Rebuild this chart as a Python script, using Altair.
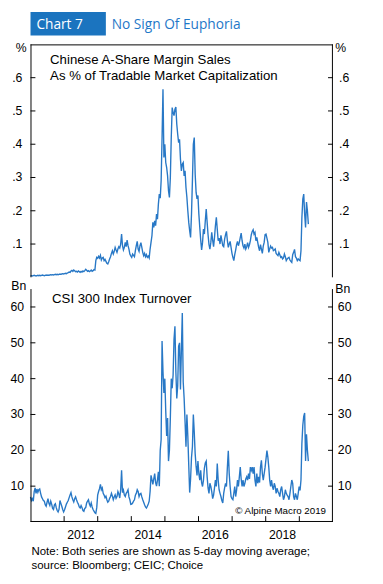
import altair as alt
import pandas as pd

# ---------------- data ----------------
# 10-day sampled 5-day moving averages, starting 2011-01-01
margin_pct = [
    0.004, 0.005, 0.004, 0.005, 0.006, 0.005, 0.004, 0.005, 0.006, 0.005,
    0.006, 0.005, 0.006, 0.007, 0.006, 0.005, 0.006, 0.007, 0.006, 0.007,
    0.006, 0.007, 0.008, 0.007, 0.008, 0.007, 0.008, 0.009, 0.008, 0.009,
    0.008, 0.009, 0.010, 0.009, 0.010, 0.011, 0.010, 0.011, 0.012, 0.011,
    0.013, 0.014, 0.016, 0.015, 0.019, 0.021, 0.018, 0.022, 0.020, 0.017,
    0.018, 0.016, 0.019, 0.017, 0.015, 0.018, 0.016, 0.019, 0.017, 0.020,
    0.024, 0.021, 0.018, 0.020, 0.017, 0.019, 0.022, 0.018, 0.020, 0.023,
    0.022, 0.050, 0.060, 0.057, 0.063, 0.058, 0.066, 0.052, 0.058, 0.060,
    0.050, 0.054, 0.048, 0.042, 0.040, 0.047, 0.055, 0.062, 0.072, 0.080,
    0.070, 0.078, 0.090, 0.082, 0.075, 0.085, 0.092, 0.088, 0.100, 0.130,
    0.095, 0.082, 0.090, 0.105, 0.092, 0.112, 0.095, 0.085, 0.070, 0.064,
    0.060, 0.070, 0.066, 0.062, 0.080, 0.095, 0.108, 0.085, 0.078, 0.095,
    0.104, 0.090, 0.075, 0.065, 0.072, 0.062, 0.068, 0.060, 0.064, 0.058,
    0.085, 0.105, 0.125, 0.165, 0.150, 0.170, 0.155, 0.190, 0.175, 0.220,
    0.250, 0.238, 0.290, 0.420, 0.565, 0.360, 0.400, 0.345, 0.330, 0.305,
    0.260, 0.240, 0.300, 0.420, 0.510, 0.495, 0.486, 0.505, 0.512, 0.460,
    0.430, 0.405, 0.415, 0.355, 0.320, 0.340, 0.345, 0.305, 0.320, 0.270,
    0.240, 0.200, 0.165, 0.140, 0.120, 0.190, 0.290, 0.400, 0.420, 0.310,
    0.255, 0.236, 0.246, 0.190, 0.150, 0.112, 0.082, 0.105, 0.145, 0.130,
    0.170, 0.205, 0.165, 0.128, 0.099, 0.085, 0.105, 0.135, 0.112, 0.092,
    0.120, 0.155, 0.180, 0.145, 0.110, 0.118, 0.100, 0.126, 0.110, 0.095,
    0.092, 0.115, 0.128, 0.138, 0.110, 0.090, 0.100, 0.108, 0.090, 0.072,
    0.060, 0.050, 0.068, 0.082, 0.098, 0.108, 0.095, 0.105, 0.119, 0.133,
    0.110, 0.095, 0.088, 0.100, 0.085, 0.092, 0.104, 0.090, 0.098, 0.110,
    0.128, 0.138, 0.143, 0.130, 0.135, 0.110, 0.120, 0.105, 0.090, 0.080,
    0.098, 0.085, 0.072, 0.094, 0.105, 0.128, 0.130, 0.118, 0.105, 0.075,
    0.085, 0.094, 0.088, 0.090, 0.080, 0.082, 0.085, 0.072, 0.068, 0.065,
    0.075, 0.068, 0.060, 0.062, 0.055, 0.058, 0.070, 0.062, 0.050, 0.055,
    0.058, 0.060, 0.052, 0.048, 0.045, 0.068, 0.075, 0.084, 0.062, 0.058,
    0.050, 0.055, 0.052, 0.050, 0.080, 0.180, 0.235, 0.250, 0.190, 0.150,
    0.226, 0.200, 0.160,
]

turnover_bn = [
    7.0, 6.0, 6.5, 5.8, 8.5, 9.5, 8.0, 9.2, 8.3, 9.0,
    9.2, 8.0, 7.0, 6.5, 6.0, 5.8, 4.8, 4.4, 5.5, 6.5,
    5.2, 4.6, 5.8, 5.0, 3.8, 3.5, 4.8, 5.1, 4.0, 3.2,
    2.8, 3.5, 6.0, 5.2, 4.4, 3.5, 2.8, 3.4, 4.2, 5.0,
    5.5, 6.0, 6.8, 7.5, 8.2, 7.0, 6.2, 5.6, 6.5, 7.0,
    6.2, 5.5, 5.0, 4.2, 3.9, 4.6, 4.0, 3.2, 3.0, 3.8,
    4.0, 5.3, 5.8, 6.2, 5.0, 4.4, 5.3, 4.2, 3.5, 3.0,
    2.6, 2.4, 4.0, 7.5, 8.5, 9.3, 10.5, 9.0, 9.5, 8.0,
    7.5, 6.8, 7.2, 6.2, 5.5, 5.8, 6.6, 7.1, 8.0, 7.2,
    6.2, 7.0, 7.6, 6.6, 7.1, 8.5, 7.8, 6.7, 9.0, 14.4,
    8.2, 8.9, 7.5, 7.1, 8.0, 8.4, 9.0, 7.0, 6.2, 4.9,
    5.0, 5.3, 5.8, 6.2, 7.5, 8.0, 9.0, 8.5, 7.1, 7.8,
    8.0, 7.0, 6.2, 5.5, 4.8, 4.2, 3.9, 4.4, 5.0, 5.8,
    8.5, 13.0, 11.8, 10.5, 12.0, 13.5, 11.0, 10.0, 11.7, 14.0,
    10.0, 20.0, 23.0, 50.5, 42.0, 36.0, 40.0, 31.0, 24.0, 29.0,
    17.0, 20.0, 29.0, 40.0, 37.3, 41.0, 51.0, 54.6, 42.0, 34.5,
    38.0, 49.0, 50.0, 37.0, 48.0, 58.3, 39.0, 34.5, 28.0, 21.0,
    30.0, 24.0, 16.0, 8.2, 12.0, 18.0, 21.0, 30.0, 25.0, 19.0,
    15.5, 13.0, 17.0, 13.5, 11.7, 14.4, 11.0, 9.9, 11.7, 15.0,
    16.5, 17.0, 12.6, 9.5, 8.0, 10.8, 9.9, 8.5, 6.5, 7.5,
    9.5, 11.7, 9.9, 16.3, 11.7, 9.0, 8.0, 7.1, 6.0, 5.3,
    8.0, 9.5, 10.8, 9.9, 15.3, 19.9, 13.5, 9.9, 7.1, 6.5,
    6.2, 8.0, 9.9, 7.1, 8.9, 11.7, 9.9, 12.6, 15.3, 12.0,
    9.9, 11.7, 9.9, 10.8, 12.0, 12.6, 11.7, 13.5, 12.0, 15.3,
    14.4, 15.3, 13.5, 15.3, 11.7, 9.9, 13.5, 10.8, 12.6, 11.0,
    15.3, 17.2, 13.5, 11.7, 13.5, 15.3, 17.6, 19.9, 18.1, 15.3,
    11.7, 9.9, 11.7, 9.9, 9.0, 10.8, 9.9, 8.0, 9.4, 8.5,
    8.0, 7.1, 9.0, 9.9, 8.0, 6.2, 7.1, 9.0, 8.0, 7.5,
    7.1, 6.2, 8.0, 9.9, 11.7, 10.8, 7.1, 6.2, 8.0, 7.1,
    6.2, 8.0, 9.9, 8.8, 11.7, 22.0, 27.0, 29.5, 30.4, 17.0,
    24.5, 20.0, 17.0,
]

top_ticks = [0.1, 0.2, 0.3, 0.4, 0.5, 0.6]
top_tick_labels = [".1", ".2", ".3", ".4", ".5", ".6"]
bot_ticks = [10, 20, 30, 40, 50, 60]
bot_tick_labels = ["10", "20", "30", "40", "50", "60"]
year_ticks = [2012, 2013, 2014, 2015, 2016, 2017, 2018, 2019]
year_label_pos = [2012.5, 2014.5, 2016.5, 2018.5]
year_labels = ["2012", "2014", "2016", "2018"]

# ---------------- frames ----------------
dates = pd.date_range("2011-01-01", periods=len(margin_pct), freq="10D")
t = 2011 + (dates - pd.Timestamp("2011-01-01")).days / 365.25
df_top = pd.DataFrame({"t": t, "v": margin_pct})
df_bot = pd.DataFrame({"t": t, "v": turnover_bn})
df_tt = pd.DataFrame({"v": top_ticks, "lab": top_tick_labels})
df_bt = pd.DataFrame({"v": bot_ticks, "lab": bot_tick_labels})
df_yt = pd.DataFrame({"yr": year_ticks})
df_yl = pd.DataFrame({"yr": year_label_pos, "lab": year_labels})
one = pd.DataFrame({"a": [0]})

W, H = 309, 488
TOP_H = 238
BOT_Y0 = 250

LINE = "#2878c6"
BOX = "#1b74bf"
BLUE_TXT = "#1f78c8"
FONT = "Liberation Sans"
LBL = 12.5

xs = alt.Scale(domain=[2011, 2020], nice=False, zero=False)


def ys_top():
    return alt.Scale(domain=[0, 0.7], range=[TOP_H, 0], nice=False, zero=False)


def ys_bot():
    return alt.Scale(domain=[0, 65], range=[H, BOT_Y0], nice=False, zero=False)


layers = []

# series
layers.append(alt.Chart(df_top).mark_line(color=LINE, strokeWidth=1.4).encode(
    x=alt.X("t:Q", scale=xs, axis=None),
    y=alt.Y("v:Q", scale=ys_top(), axis=None)))
layers.append(alt.Chart(df_bot).mark_line(color=LINE, strokeWidth=1.4).encode(
    x=alt.X("t:Q", scale=xs, axis=None),
    y=alt.Y("v:Q", scale=ys_bot(), axis=None)))

# y tick marks (inward) and labels
for dfk, sc, rx in [(df_tt, ys_top, 320.5), (df_bt, ys_bot, 321)]:
    layers.append(alt.Chart(dfk).mark_rule(color="black", strokeWidth=1).encode(
        x=alt.value(0), x2=alt.value(5),
        y=alt.Y("v:Q", scale=sc(), axis=None)))
    layers.append(alt.Chart(dfk).mark_rule(color="black", strokeWidth=1).encode(
        x=alt.value(W - 5), x2=alt.value(W),
        y=alt.Y("v:Q", scale=sc(), axis=None)))
    layers.append(alt.Chart(dfk).mark_text(font=FONT, fontSize=LBL, align="center",
                                           baseline="middle", color="black").encode(
        x=alt.value(-13.5), y=alt.Y("v:Q", scale=sc(), axis=None), text="lab:N"))
    layers.append(alt.Chart(dfk).mark_text(font=FONT, fontSize=LBL, align="center",
                                           baseline="middle", color="black").encode(
        x=alt.value(rx), y=alt.Y("v:Q", scale=sc(), axis=None), text="lab:N"))

# x ticks (inward) and year labels
layers.append(alt.Chart(df_yt).mark_rule(color="black", strokeWidth=1).encode(
    x=alt.X("yr:Q", scale=xs, axis=None), y=alt.value(H - 6), y2=alt.value(H)))
layers.append(alt.Chart(df_yl).mark_text(font=FONT, fontSize=LBL, align="center",
                                         baseline="middle", color="black").encode(
    x=alt.X("yr:Q", scale=xs, axis=None), y=alt.value(501), text="lab:N"))

# frame lines
def rule(x, x2, y, y2):
    return alt.Chart(one).mark_rule(color="black", strokeWidth=1).encode(
        x=alt.value(x), x2=alt.value(x2), y=alt.value(y), y2=alt.value(y2))

layers += [
    rule(0, W, 0.5, 0.5),          # top of upper panel
    rule(0.5, 0.5, 0, TOP_H),      # left of upper panel
    rule(W - 0.5, W - 0.5, 0, TOP_H),
    rule(0.5, 0.5, BOT_Y0, H),     # left of lower panel
    rule(W - 0.5, W - 0.5, BOT_Y0, H),
    rule(0, W, H - 0.5, H - 0.5),  # bottom of lower panel
]

# header box
layers.append(alt.Chart(one).mark_rect(color=BOX).encode(
    x=alt.value(0), x2=alt.value(77), y=alt.value(-33), y2=alt.value(-9)))


def txt(s, x, y, size, color="black", align="left", font=FONT):
    return alt.Chart(one).mark_text(text=s, font=font, fontSize=size, align=align,
                                    baseline="middle", color=color).encode(
        x=alt.value(x), y=alt.value(y))

layers += [
    txt("Chart 7", 6, -20, 14, "white", font="Open Sans"),
    txt("No Sign Of Euphoria", 83, -20, 14, BLUE_TXT, font="Open Sans"),
    txt("%", -9.5, 3.5, 12.5, align="center"),
    txt("%", 317, 3.5, 12.5, align="center"),
    txt("Chinese A-Share Margin Sales", 20, 16, 13.5),
    txt("As % of Tradable Market Capitalization", 20, 32, 13.5),
    txt("Bn", -12, 247, 12.5, align="center"),
    txt("Bn", 319, 250, 12.5, align="center"),
    txt("CSI 300 Index Turnover", 22, 260, 13.5),
    txt("\u00a9 Alpine Macro 2019", 302, 477, 10, align="right"),
    txt("Note: Both series are shown as 5-day moving average;", 1, 518, 11.7),
    txt("source: Bloomberg; CEIC; Choice", 1, 532, 11.7),
]

chart = alt.layer(*layers).resolve_scale(y="independent").properties(
    width=W, height=H,
    autosize=alt.AutoSizeParams(type="none"),
    padding={"left": 23, "top": 31, "right": 43, "bottom": 49},
).configure_view(stroke=None)

chart.save("out.html", embed_options={"renderer": "svg", "actions": False})
